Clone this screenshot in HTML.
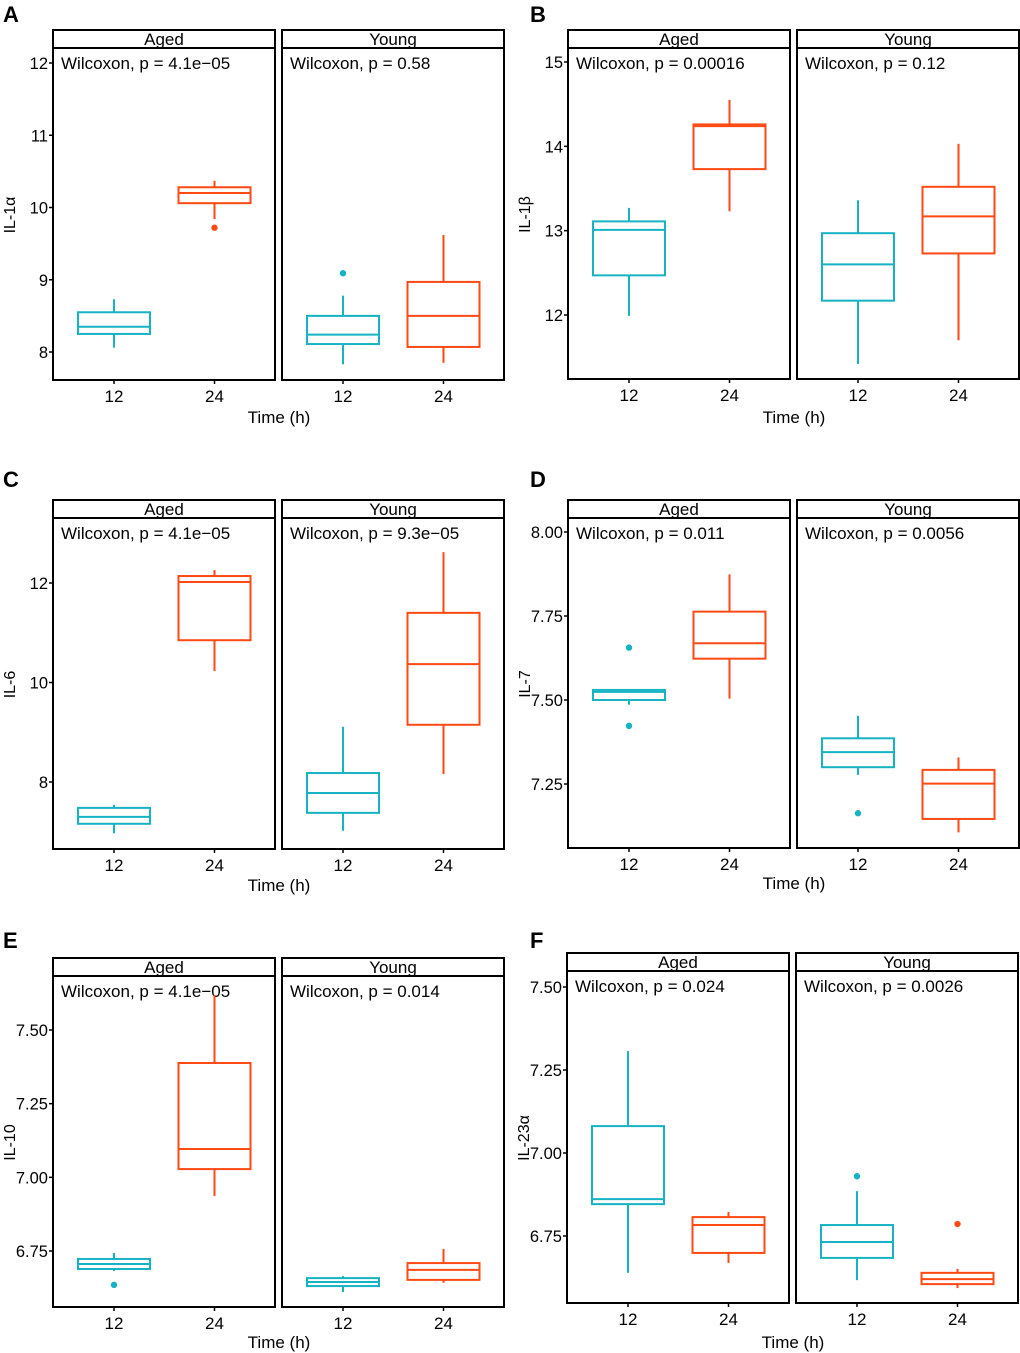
<!DOCTYPE html>
<html><head><meta charset="utf-8"><style>
html,body{margin:0;padding:0;background:#fff}
svg{display:block;font-family:"Liberation Sans",sans-serif}
</style></head><body>
<svg id="fig" width="1020" height="1353" viewBox="0 0 1020 1353" xmlns="http://www.w3.org/2000/svg"></svg>
<script>
// ---- data: [lowWhisker, q1, median, q3, highWhisker], outliers ----
const groups = ["Aged-12","Aged-24","Young-12","Young-24"];
const xCategories = ["12","24"];
const facets = ["Aged","Young"];

const aBoxes = [[8.06,8.25,8.35,8.55,8.73],[9.84,10.06,10.20,10.28,10.37],[7.83,8.11,8.24,8.50,8.78],[7.85,8.07,8.50,8.97,9.62]];
const aOut = [[],[9.72],[9.09],[]];
const aTicks = [8,9,10,11,12];
const aP = ["Wilcoxon, p = 4.1e\u221205","Wilcoxon, p = 0.58"];

const bBoxes = [[11.99,12.47,13.01,13.11,13.27],[13.23,13.73,14.24,14.26,14.55],[11.42,12.17,12.60,12.97,13.36],[11.70,12.73,13.17,13.52,14.03]];
const bOut = [[],[],[],[]];
const bTicks = [12,13,14,15];
const bP = ["Wilcoxon, p = 0.00016","Wilcoxon, p = 0.12"];

const cBoxes = [[6.97,7.16,7.30,7.48,7.54],[10.23,10.85,12.02,12.14,12.26],[7.02,7.38,7.78,8.18,9.11],[8.16,9.15,10.37,11.40,12.62]];
const cOut = [[],[],[],[]];
const cTicks = [8,10,12];
const cP = ["Wilcoxon, p = 4.1e\u221205","Wilcoxon, p = 9.3e\u221205"];

const dBoxes = [[7.486,7.50,7.524,7.53,7.53],[7.504,7.623,7.669,7.763,7.874],[7.277,7.30,7.345,7.386,7.453],[7.106,7.146,7.251,7.292,7.329]];
const dOut = [[7.656,7.423],[],[7.163],[]];
const dTicks = [7.25,7.50,7.75,8.00];
const dP = ["Wilcoxon, p = 0.011","Wilcoxon, p = 0.0056"];

const eBoxes = [[6.682,6.689,6.706,6.723,6.743],[6.937,7.028,7.096,7.388,7.619],[6.611,6.631,6.645,6.658,6.665],[6.642,6.652,6.686,6.709,6.757]];
const eOut = [[6.635],[],[],[]];
const eTicks = [6.75,7.00,7.25,7.50];
const eP = ["Wilcoxon, p = 4.1e\u221205","Wilcoxon, p = 0.014"];

const fBoxes = [[6.639,6.846,6.861,7.081,7.307],[6.669,6.699,6.783,6.807,6.822],[6.617,6.684,6.732,6.783,6.885],[6.593,6.605,6.620,6.639,6.651]];
const fOut = [[],[],[6.930],[6.786]];
const fTicks = [6.75,7.00,7.25,7.50];
const fP = ["Wilcoxon, p = 0.024","Wilcoxon, p = 0.0026"];

const NS="http://www.w3.org/2000/svg";
const svg=document.getElementById('fig');
function mk(tag,attrs,parent,text){const e=document.createElementNS(NS,tag);for(const k in attrs)e.setAttribute(k,attrs[k]);if(text!==undefined)e.textContent=text;(parent||svg).appendChild(e);return e;}
const COLORS=["#15b3c4","#ff4a14"];

function panel(cfg){
  const g=mk('g',{});
  
  
  const k=(cfg.y1px-cfg.y0px)/(cfg.y1v-cfg.y0v);
  const y=v=>cfg.y0px+(v-cfg.y0v)*k;
  const L=mk('text',{x:cfg.lx,y:cfg.ly,'font-size':22,'font-weight':'bold',fill:'#000'},g,cfg.letter);
  
  
  const fx=[[cfg.x0,cfg.x0+222],[cfg.x0+229,cfg.x0+451]];
  fx.forEach((f,fi)=>{
    const w=f[1]-f[0];
    const st=mk('rect',{x:f[0],y:cfg.st,width:w,height:18,fill:'#fff',stroke:'#000','stroke-width':2},g);
    
    
    mk('text',{x:(f[0]+f[1])/2,y:cfg.st+15,'font-size':17,'text-anchor':'middle'},g,facets[fi]);
    const pr=mk('rect',{x:f[0],y:cfg.st+18,width:w,height:cfg.bot-cfg.st-18,fill:'#fff',stroke:'#000','stroke-width':2},g);
    
    
    const pt=mk('text',{x:f[0]+8,y:cfg.st+39,'font-size':17},g,cfg.p[fi]);
    
    
    const cx=[f[0]+61,f[0]+161.5];
    cx.forEach((c,ci)=>{
      const gi=fi*2+ci;const b=cfg.boxes[gi];const col=COLORS[ci];
      const bg=mk('g',{stroke:col,'stroke-width':2,fill:'none'},g);
      
      
      mk('line',{x1:c,x2:c,y1:y(b[0]),y2:y(b[1])},bg);
      mk('line',{x1:c,x2:c,y1:y(b[3]),y2:y(b[4])},bg);
      mk('rect',{x:c-36,y:y(b[3]),width:72,height:Math.max(0.5,y(b[1])-y(b[3])),fill:'#fff'},bg);
      mk('line',{x1:c-36,x2:c+36,y1:y(b[2]),y2:y(b[2])},bg);
      cfg.out[gi].forEach(o=>{
        const d=mk('circle',{cx:c,cy:y(o),r:3.2,fill:col,stroke:'none'},g);
        
        
      });
      mk('line',{x1:c,x2:c,y1:cfg.bot,y2:cfg.bot+4,stroke:'#000','stroke-width':1.5},g);
      const xt=mk('text',{x:c,y:cfg.bot+22,'font-size':17,'text-anchor':'middle'},g,xCategories[ci]);
      
      
    });
  });
  cfg.ticks.forEach(t=>{
    const yy=y(t);
    mk('line',{x1:cfg.x0-4,x2:cfg.x0,y1:yy,y2:yy,stroke:'#000','stroke-width':1.5},g);
    const lbl=(cfg.dec?t.toFixed(2):String(t));
    const tl=mk('text',{x:cfg.x0-5,y:yy+6,'font-size':16.5,'text-anchor':'end'},g,lbl);
    
    
  });
  const yt=mk('text',{x:0,y:0,'font-size':16,'text-anchor':'middle',transform:`translate(${cfg.x0-38},${(cfg.st+cfg.bot)/2+10}) rotate(-90)`},g,cfg.ytitle);
  
  
  const xt=mk('text',{x:cfg.x0+226,y:cfg.tly,'font-size':17,'text-anchor':'middle'},g,'Time (h)');
  
  
}

panel({letter:'A',lx:3,ly:22,x0:53,st:30,bot:380,y0v:8,y0px:352,y1v:12,y1px:63,boxes:aBoxes,out:aOut,ticks:aTicks,p:aP,ytitle:'IL-1\u03b1',tly:423,dec:false});
panel({letter:'B',lx:530,ly:22,x0:568,st:30,bot:379,y0v:12,y0px:315,y1v:15,y1px:62,boxes:bBoxes,out:bOut,ticks:bTicks,p:bP,ytitle:'IL-1\u03b2',tly:423,dec:false});
panel({letter:'C',lx:3,ly:487,x0:53,st:500,bot:849,y0v:8,y0px:782,y1v:12,y1px:583,boxes:cBoxes,out:cOut,ticks:cTicks,p:cP,ytitle:'IL-6',tly:891,dec:false});
panel({letter:'D',lx:530,ly:487,x0:568,st:500,bot:848,y0v:7.25,y0px:784,y1v:8,y1px:532,boxes:dBoxes,out:dOut,ticks:dTicks,p:dP,ytitle:'IL-7',tly:889,dec:true});
panel({letter:'E',lx:3,ly:948,x0:53,st:958,bot:1307,y0v:6.75,y0px:1251,y1v:7.5,y1px:1030,boxes:eBoxes,out:eOut,ticks:eTicks,p:eP,ytitle:'IL-10',tly:1348,dec:true});
panel({letter:'F',lx:530,ly:948,x0:567,st:953,bot:1303,y0v:6.75,y0px:1236,y1v:7.5,y1px:987,boxes:fBoxes,out:fOut,ticks:fTicks,p:fP,ytitle:'IL-23\u03b1',tly:1348,dec:true});
</script>
</body></html>
